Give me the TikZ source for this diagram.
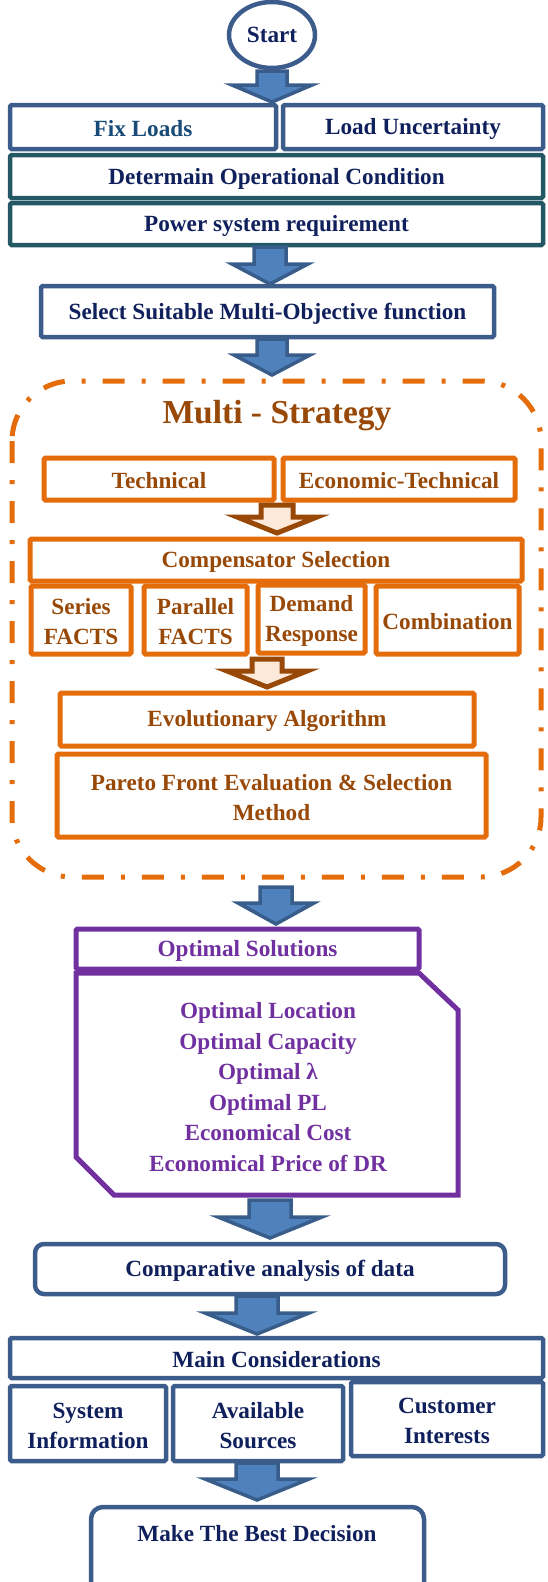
\documentclass[tikz,border=0pt]{standalone}
\usepackage{fontspec}
\setmainfont{Liberation Serif}
\usetikzlibrary{shapes.geometric}

\definecolor{bluebd}{RGB}{60,92,140}
\definecolor{tealbd}{RGB}{35,88,100}
\definecolor{navytx}{RGB}{16,32,92}
\definecolor{fixtx}{RGB}{25,75,120}
\definecolor{arrowfill}{RGB}{79,129,189}
\definecolor{arrowbd}{RGB}{56,93,138}
\definecolor{orangebd}{RGB}{228,108,10}
\definecolor{browntx}{RGB}{152,72,7}
\definecolor{peach}{RGB}{253,233,217}
\definecolor{purplebd}{RGB}{112,48,160}

% box given by its style, name and left, right, top and bottom edges;
% its text sits a little below the geometric centre
\newcommand\blk[7]{%
  \node[#1, minimum width={(#4-#3)*1pt}, minimum height={(#6-#5)*1pt}]
    (#2) at ({(#3+#4)/2},{(#5+#6)/2}) {};
  \node[#1, draw=none, fill=none, minimum width=0pt, minimum height=0pt,
        rounded corners=0pt, yshift=-2pt] (#2-t) at (#2.center) {#7};}

% block arrow pointing down: centre x, top y, tip y, shaft half width,
% head half width, head length, style
\newcommand\fatarrow[7]{%
  \draw[#7] ({#1-#4},{#2}) -- ({#1+#4},{#2}) -- ({#1+#4},{#3-#6})
    -- ({#1+#5},{#3-#6}) -- ({#1},{#3}) -- ({#1-#5},{#3-#6})
    -- ({#1-#4},{#3-#6}) -- cycle;}

\tikzset{
  lbl/.style={font=\fontsize{23.2}{30}\selectfont\bfseries, align=center, inner sep=0pt},
  bluebox/.style={lbl, draw=bluebd, line width=4.5pt, rounded corners=1.5pt, text=navytx, fill=white},
  tealbox/.style={lbl, draw=tealbd, line width=4.5pt, rounded corners=1.5pt, text=navytx, fill=white},
  orbox/.style={lbl, draw=orangebd, line width=5pt, rounded corners=1.5pt, text=browntx, fill=white},
  purbox/.style={lbl, draw=purplebd, line width=5pt, rounded corners=1.5pt, text=purplebd, fill=white},
  bluearrow/.style={fill=arrowfill, draw=arrowbd, line width=3.5pt, line join=miter},
  brownarrow/.style={fill=peach, draw=browntx, line width=5pt, line join=miter},
}

\begin{document}
\begin{tikzpicture}[x=1pt,y=-1pt]
\useasboundingbox (0,0) rectangle (547,1582);

% start
\node[ellipse, draw=bluebd, line width=4.5pt, minimum width=86pt, minimum height=66pt,
      inner sep=0pt, font=\fontsize{23.2}{30}\selectfont\bfseries, text=navytx]
  (start) at (272,35) {Start};
\fatarrow{272}{71}{102}{15}{40}{17}{bluearrow}

% load and operating conditions
\blk{bluebox, text=fixtx}{fix}{10}{276}{105}{149}{Fix Loads}
\blk{bluebox}{unc}{283}{543}{105}{149}{Load Uncertainty}
\blk{tealbox}{oper}{10}{543}{155}{198}{Determain Operational Condition}
\blk{tealbox}{req}{10}{543}{203}{245}{Power system requirement}
\fatarrow{270}{247}{284}{16}{38}{20}{bluearrow}
\blk{bluebox}{obj}{41}{494}{286}{337}{Select Suitable Multi-Objective function}
\fatarrow{272}{339}{375}{15}{38}{20}{bluearrow}

% multi-strategy frame
\draw[orangebd, line width=5pt, rounded corners=60pt,
      dash pattern=on 22pt off 17pt on 4pt off 17pt]
  (12,381) rectangle (541,877);
\node[font=\fontsize{33.5}{36}\selectfont\bfseries, text=browntx, inner sep=0pt]
  (ms) at (277,416) {Multi - Strategy};

\blk{orbox}{tech}{44}{274}{458}{500}{Technical}
\blk{orbox}{econ}{283}{515}{458}{500}{Economic-Technical}
\fatarrow{277}{505}{533}{16}{40}{16}{brownarrow}
\blk{orbox}{comp}{30}{522}{539}{581}{Compensator Selection}
\blk{orbox}{ser}{31}{131}{586}{654}{Series\\FACTS}
\blk{orbox}{par}{144}{247}{586}{654}{Parallel\\FACTS}
\blk{orbox}{dr}{258}{365}{585}{653}{Demand\\Response}
\blk{orbox}{combi}{376}{519}{586}{654}{Combination}
\fatarrow{267}{659}{687}{15}{40}{16}{brownarrow}
\blk{orbox}{evo}{60}{474}{693}{746}{Evolutionary Algorithm}
\blk{orbox}{pareto}{57}{486}{754}{837}{Pareto Front Evaluation \& Selection\\Method}

% optimal solutions
\fatarrow{276}{887}{924}{16}{38}{21}{bluearrow}
\blk{purbox}{opt}{76}{419}{929}{969}{Optimal Solutions}
\draw[purplebd, line width=5pt, line join=miter]
  (76,973) -- (419,973) -- (458,1010) -- (458,1195) -- (114,1195)
  -- (76,1157) -- cycle;
\node[font=\fontsize{23.2}{30.6}\selectfont\bfseries, text=purplebd, align=center,
      inner sep=0pt] (list) at (268,1087)
  {Optimal Location\\Optimal Capacity\\Optimal λ\\Optimal PL\\Economical Cost\\Economical Price of DR};

% analysis and decision
\fatarrow{270}{1200}{1238}{21}{52}{21}{bluearrow}
\blk{bluebox, rounded corners=9pt}{cmp}{35}{505}{1244}{1294}{Comparative analysis of data}
\fatarrow{257}{1296}{1334}{21}{52}{21}{bluearrow}
\blk{bluebox}{main}{10}{543}{1338}{1378}{Main Considerations}
\blk{bluebox}{sys}{10}{166}{1386}{1461}{System\\Information}
\blk{bluebox}{avail}{173}{343}{1386}{1461}{Available\\Sources}
\blk{bluebox}{cust}{351}{543}{1382}{1456}{Customer\\Interests}
\fatarrow{257}{1463}{1500}{21}{52}{21}{bluearrow}
\draw[bluebd, line width=4.5pt, rounded corners=12pt] (91,1620) |- (424,1507) -- (424,1620);
\node[lbl, text=navytx] (best) at (257,1534) {Make The Best Decision};
\end{tikzpicture}
\end{document}
